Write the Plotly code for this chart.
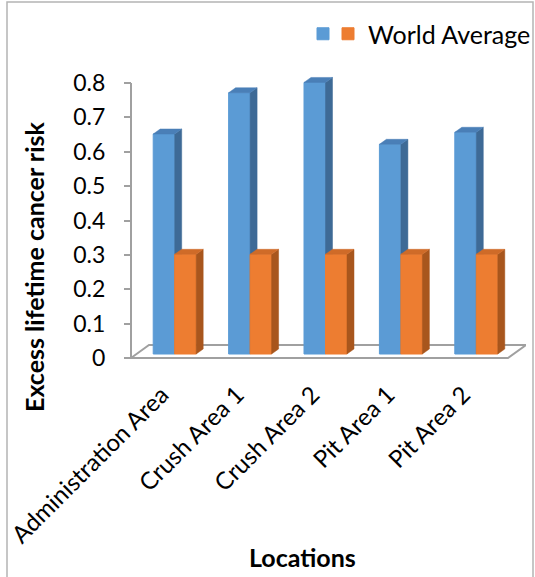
import plotly.graph_objects as go

# ---- data -------------------------------------------------------------
locations = ["Administration Area", "Crush Area 1", "Crush Area 2", "Pit Area 1", "Pit Area 2"]
site_risk = [0.64, 0.76, 0.79, 0.61, 0.645]
world_average = [0.29, 0.29, 0.29, 0.29, 0.29]
y_tick_vals = [0, 0.1, 0.2, 0.3, 0.4, 0.5, 0.6, 0.7, 0.8]
y_tick_text = ["0", "0.1", "0.2", "0.3", "0.4", "0.5", "0.6", "0.7", "0.8"]

# ---- geometry of the page ---------------------------------------------
W, H = 535, 577
ML, MR, MT, MB = 120, 9, 60, 215
PW, PH = W - ML - MR, H - MT - MB
AXIS_PX = 131                   # pixel column of the value axis
ZERO_PX = 358                   # pixel row of value 0 on the floor's front edge
Y_MAX = 0.8
PX_PER_X = 75.4                 # pixels per category slot
PX_PER_Y = 343.75               # pixels per unit of risk

X_FLOOR = -0.5 - 6 / PX_PER_X                 # floor front edge starts left of the bars
X_LO = X_FLOOR - (AXIS_PX - ML) / PX_PER_X
X_HI = X_LO + PW / PX_PER_X
Y_LO = -(H - MB - ZERO_PX) / PX_PER_Y
Y_HI = Y_LO + PH / PX_PER_Y
LIFT = 4 / PX_PER_Y             # bars stand slightly behind the floor's front edge

BAR_W = 0.285
DX, DY = 7 / PX_PER_X, 5 / PX_PER_Y          # bar depth
FDX, FDY = 18 / PX_PER_X, 13 / PX_PER_Y      # floor depth

FONT = "Lato"
GRAY = "#a0a0a0"


def px_x(px):
    return (px - ML) / PW


def px_y(py):
    return (H - MB - py) / PH


def box_faces(lefts, values):
    """Side and top faces of extruded bars, as None-separated polygons."""
    sx, sy, tx, ty = [], [], [], []
    for xl, v in zip(lefts, values):
        xr = xl + BAR_W
        sx += [xr, xr, xr + DX, xr + DX, xr, None]
        sy += [0, v, v + DY, DY, 0, None]
        tx += [xl, xr, xr + DX, xl + DX, xl, None]
        ty += [v, v, v + DY, v + DY, v, None]
    return sx, sy, tx, ty


idx = list(range(len(locations)))
n = len(locations)
fig = go.Figure()

# floor of the 3-D plot area and the value axis line
floor_x = [X_FLOOR, X_FLOOR + n, X_FLOOR + n + FDX, X_FLOOR + FDX, X_FLOOR]
floor_y = [0, 0, FDY, FDY, 0]
fig.add_trace(go.Scatter(x=floor_x, y=floor_y, mode="lines", line=dict(color=GRAY, width=2),
                         showlegend=False, hoverinfo="skip"))
fig.add_trace(go.Scatter(x=[X_FLOOR, X_FLOOR], y=[0, Y_MAX], mode="lines",
                         line=dict(color=GRAY, width=2), showlegend=False, hoverinfo="skip"))

series = [
    ("", site_risk, -BAR_W, "#5b9bd5", "#3e6a96", "#4a7fb7", "y2", "legend"),
    ("World Average", world_average, 0.0, "#ed7d31", "#a8561d", "#cf6b28", "y3", "legend2"),
]
for name, vals, off, front, side, top, yax, leg in series:
    fig.add_trace(go.Bar(x=idx, y=vals, name=name, offset=off, width=BAR_W,
                         marker=dict(color=front, line=dict(color=front, width=1)),
                         yaxis=yax, legend=leg))
    sx, sy, tx, ty = box_faces([i + off for i in idx], vals)
    fig.add_trace(go.Scatter(x=sx, y=sy, mode="lines", fill="toself", fillcolor=side,
                             line=dict(color=side, width=0.5), yaxis=yax,
                             showlegend=False, hoverinfo="skip"))
    fig.add_trace(go.Scatter(x=tx, y=ty, mode="lines", fill="toself", fillcolor=top,
                             line=dict(color=top, width=0.5), yaxis=yax,
                             showlegend=False, hoverinfo="skip"))

lifted = dict(overlaying="y", anchor="x", visible=False, range=[Y_LO - LIFT, Y_HI - LIFT],
              showgrid=False, zeroline=False)
legend_style = dict(orientation="h", xanchor="left", yanchor="top",
                    font=dict(family=FONT, size=25), bgcolor="rgba(0,0,0,0)", itemwidth=30)

fig.update_layout(
    width=W, height=H,
    margin=dict(l=ML, r=MR, t=MT, b=MB, autoexpand=False),
    paper_bgcolor="white", plot_bgcolor="rgba(0,0,0,0)",
    font=dict(family=FONT, size=22, color="black"),
    barmode="overlay",
    xaxis=dict(range=[X_LO, X_HI], tickvals=idx, ticktext=locations, tickangle=-45,
               showgrid=False, zeroline=False, showline=False, ticks="",
               ticklabelstandoff=13, ticklabelshift=-13,
               tickfont=dict(family=FONT, size=24)),
    yaxis=dict(range=[Y_LO, Y_HI], tickvals=y_tick_vals, ticktext=y_tick_text,
               anchor="free", position=px_x(AXIS_PX),
               ticks="outside", ticklen=7, tickwidth=2, tickcolor=GRAY,
               ticklabelstandoff=14,
               showgrid=False, zeroline=False, showline=False,
               tickfont=dict(family=FONT, size=23)),
    yaxis2=lifted,
    yaxis3=lifted,
    legend=dict(x=px_x(303), y=px_y(11), **legend_style),
    legend2=dict(x=px_x(328), y=px_y(11), **legend_style),
    showlegend=True,
    annotations=[
        dict(text="Excess lifetime cancer risk", x=px_x(34), y=px_y(267), xref="paper", yref="paper",
             textangle=-90, showarrow=False, xanchor="center", yanchor="middle",
             font=dict(family=FONT, size=25, weight="bold")),
        dict(text="Locations", x=px_x(302), y=px_y(557), xref="paper", yref="paper",
             showarrow=False, xanchor="center", yanchor="middle",
             font=dict(family=FONT, size=25, weight="bold")),
    ],
    shapes=[dict(type="rect", xref="paper", yref="paper",
                 x0=px_x(7), x1=px_x(533), y0=px_y(590), y1=px_y(2),
                 line=dict(color="#b4b4b4", width=1.5), layer="below")],
)

fig.write_html("out.html")
